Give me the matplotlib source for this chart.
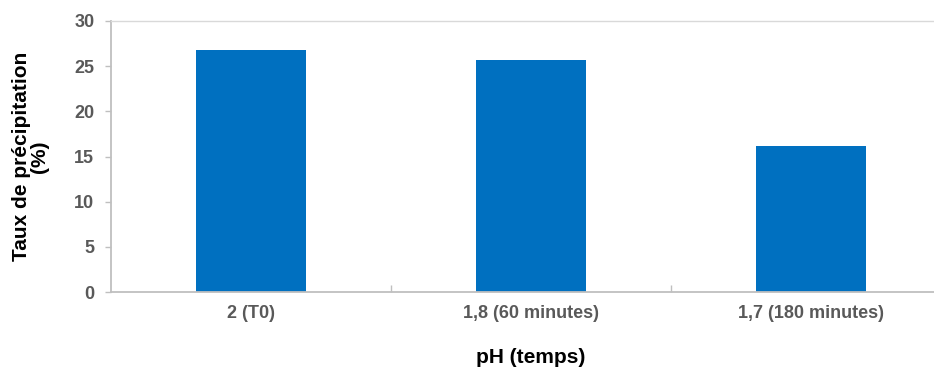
import numpy as np
import matplotlib.pyplot as plt

plt.rcParams['font.family'] = ['Liberation Sans', 'DejaVu Sans']

# Données
categories = ['2 (T0)', '1,8 (60 minutes)', '1,7 (180 minutes)']
taux = [26.8, 25.7, 16.2]
yticks = [0, 5, 10, 15, 20, 25, 30]

fig = plt.figure(figsize=(9.34, 3.67), dpi=100)
ax = fig.add_axes([0.1188, 0.204, 0.8994, 0.739])

x = np.arange(len(categories))
ax.bar(x, taux, width=0.39, color='#0070C0', zorder=2)

ax.set_xlim(-0.5, len(categories) - 0.5)
ax.set_ylim(0, 30)
ax.set_yticks(yticks)
ax.set_yticklabels([str(v) for v in yticks], fontsize=13, fontweight='bold', color='#595959')
ax.set_xticks(x)
ax.set_xticklabels(categories, fontsize=13, fontweight='bold', color='#595959')
ax.tick_params(axis='x', length=0, pad=9)
ax.tick_params(axis='y', length=4, width=1, color='#BFBFBF', pad=8)

# Séparateurs de catégories
ax.set_xticks(np.arange(0.5, len(categories) - 0.5, 1), minor=True)
ax.tick_params(axis='x', which='minor', direction='in', length=5, width=1, color='#BFBFBF')

for s in ['left', 'bottom']:
    ax.spines[s].set_color('#BFBFBF')
    ax.spines[s].set_linewidth(1.3)
ax.spines['top'].set_color('#D9D9D9')
ax.spines['top'].set_linewidth(1)
ax.spines['right'].set_visible(False)

ax.set_xlabel('pH (temps)', fontsize=15, fontweight='bold', labelpad=19)
ax.set_ylabel('Taux de précipitation\n(%)', fontsize=15, fontweight='bold',
              labelpad=18, linespacing=0.95)

fig.savefig('out.png', dpi=100)
